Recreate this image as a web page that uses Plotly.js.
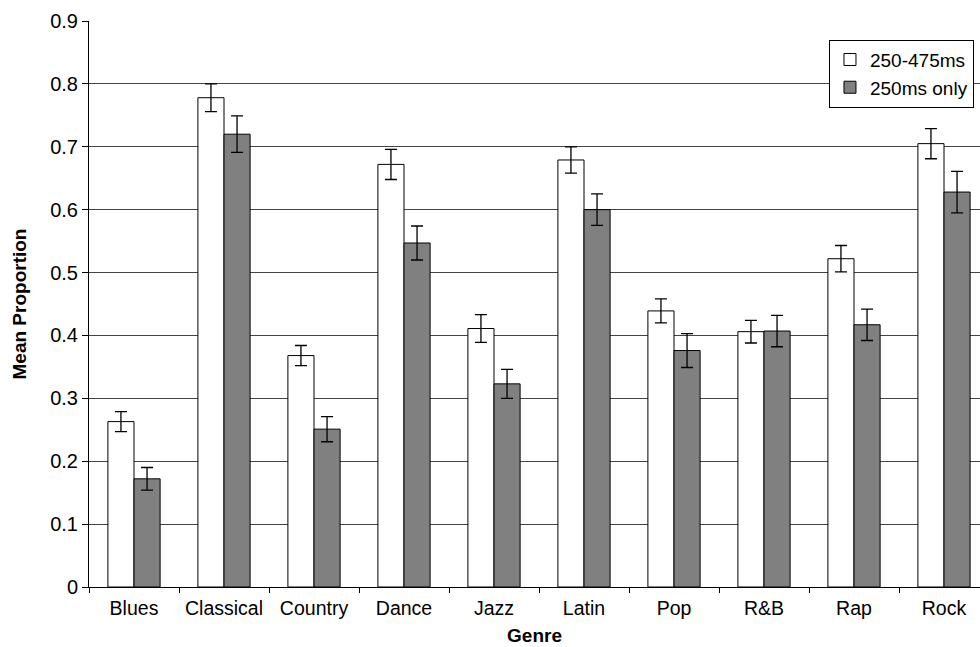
<!DOCTYPE html>
<html>
<head>
<meta charset="utf-8">
<script src="https://cdn.plot.ly/plotly-3.0.1.min.js"></script>
<style>html,body{margin:0;padding:0;background:#fff;}#chart{width:980px;height:647px;}</style>
</head>
<body>
<div id="chart"></div>
<script>
const genres = ["Blues","Classical","Country","Dance","Jazz","Latin","Pop","R&B","Rap","Rock"];
const seriesNames = ["250-475ms","250ms only"];
const valsLong = [0.263,0.778,0.368,0.672,0.411,0.679,0.439,0.406,0.522,0.705];
const errLong  = [0.016,0.022,0.016,0.024,0.022,0.021,0.019,0.018,0.021,0.024];
const valsShort = [0.172,0.720,0.251,0.547,0.323,0.600,0.376,0.407,0.417,0.628];
const errShort  = [0.018,0.029,0.020,0.027,0.023,0.025,0.027,0.025,0.025,0.033];
const yTicks = [0,0.1,0.2,0.3,0.4,0.5,0.6,0.7,0.8,0.9];
const yTickText = ["0","0.1","0.2","0.3","0.4","0.5","0.6","0.7","0.8","0.9"];

const font = "Liberation Sans, Arial, sans-serif";

const traces = [
  {type:"bar", name:seriesNames[0], x:genres, y:valsLong,
   marker:{color:"#ffffff", line:{color:"#000", width:1}},
   error_y:{type:"data", array:errLong, visible:true, color:"#000", thickness:1.3, width:6}},
  {type:"bar", name:seriesNames[1], x:genres, y:valsShort,
   marker:{color:"#808080", line:{color:"#000", width:1}},
   error_y:{type:"data", array:errShort, visible:true, color:"#000", thickness:1.3, width:6}}
];

const layout = {
  width:980, height:647,
  margin:{l:89, r:0, t:20.5, b:59.5},
  paper_bgcolor:"#fff", plot_bgcolor:"#fff",
  barmode:"group", bargap:0.42, bargroupgap:0,
  font:{family:font, size:20, color:"#000"},
  showlegend:true,
  legend:{x:0.8305, y:0.967, xanchor:"left", yanchor:"top",
          bgcolor:"#fff", bordercolor:"#000", borderwidth:1,
          font:{family:font, size:19, color:"#000"}, itemwidth:30,
          tracegroupgap:0},
  xaxis:{type:"category", range:[-0.5, 9.4], tickson:"boundaries",
         showline:true, linecolor:"#000", linewidth:1,
         ticks:"outside", ticklen:5, tickcolor:"#000",
         ticklabelstandoff:4,
         showgrid:false, zeroline:false,
         tickfont:{family:font, size:19.5},
         title:{text:"<b>Genre</b>", font:{family:font, size:19}, standoff:10}},
  yaxis:{range:[0,0.9], tickvals:yTicks, ticktext:yTickText, tickmode:"array",
         showline:true, linecolor:"#000", linewidth:1,
         ticks:"outside", ticklen:6, tickcolor:"#000",
         showgrid:true, gridcolor:"#444", gridwidth:1, zeroline:false,
         tickfont:{family:font, size:20},
         title:{text:"<b>Mean Proportion</b>", font:{family:font, size:19}, standoff:18}}
};

Plotly.newPlot("chart", traces, layout, {displayModeBar:false, staticPlot:true});
</script>
</body>
</html>
